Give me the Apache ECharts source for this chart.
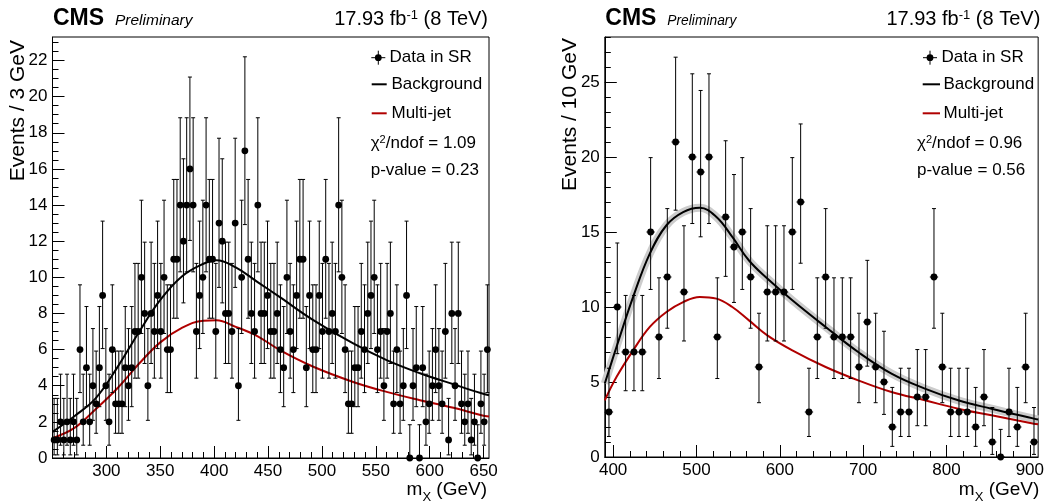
<!DOCTYPE html>
<html>
<head>
<meta charset="utf-8">
<script src="https://cdn.jsdelivr.net/npm/echarts@6/dist/echarts.min.js"></script>
<style>
  html, body { margin: 0; padding: 0; background: #fff; }
  #chart { width: 1047px; height: 503px; }
</style>
</head>
<body>
<div id="chart"></div>
<script>
// left panel: 3 GeV bins from 250 GeV
const leftBinStart = 250;
const leftBinWidth = 3;
const leftCounts = [
  1, 1, 2, 1, 2, 1, 2, 1, 6, 2, 5, 2, 4, 3, 5, 9, 4, 2, 6, 3,
  3, 3, 5, 4, 5, 7, 7, 10, 8, 4, 8, 7, 9, 7, 10, 6, 6, 11, 11, 14,
  12, 14, 16, 14, 7, 9, 10, 14, 11, 11, 7, 13, 12, 8, 8, 7, 13, 4, 10, 17,
  11, 8, 7, 14, 8, 8, 9, 7, 7, 8, 6, 5, 10, 7, 6, 9, 11, 11, 5, 9,
  6, 6, 9, 7, 11, 7, 8, 7, 14, 10, 6, 3, 3, 5, 5, 7, 6, 8, 9, 10,
  6, 7, 4, 7, 8, 3, 6, 3, 4, 9, 0, 4, 5, 0, 5, 2, 3, 4, 6, 4,
  3, 7, 1, 8, 4, 8, 3, 2, 3, 1, 2, 0, 3, 2, 6
];
const leftCurveX = [250, 270, 290, 310, 330, 350, 370, 390, 402, 420, 440, 461, 492, 529, 560, 591, 622, 648, 655];
const leftBackground = [1.45, 2.3, 3.3, 5.0, 6.95, 8.75, 10.05, 10.75, 10.95, 10.55, 9.75, 8.9, 7.63, 6.34, 5.42, 4.69, 4.08, 3.58, 3.47];
const leftMultijet = [1.1, 1.65, 2.7, 3.85, 5.2, 6.4, 7.2, 7.6, 7.62, 7.26, 6.75, 5.97, 5.05, 4.21, 3.66, 3.2, 2.78, 2.37, 2.3];
const leftXTicks = [300, 350, 400, 450, 500, 550, 600, 650];
const leftYTicks = [0, 2, 4, 6, 8, 10, 12, 14, 16, 18, 20, 22];

// right panel: 10 GeV bins from 390 GeV
const rightBinStart = 390;
const rightBinWidth = 10;
const rightCounts = [
  3, 10, 7, 7, 7, 15, 8, 12, 21, 11, 20, 19, 20, 8, 16, 14, 15, 12, 6, 11,
  11, 11, 15, 17, 3, 8, 12, 8, 8, 8, 6, 9, 6, 5, 2, 3, 3, 4, 4, 12,
  6, 3, 3, 3, 2, 4, 1, 0, 3, 2, 6, 1
];
const rightCurveX = [390, 404, 424, 444, 464, 484, 504, 524, 543, 563, 585, 615, 655, 694, 734, 774, 814, 854, 905, 910];
const rightBackground = [4.9, 7.33, 10.67, 13.56, 15.45, 16.33, 16.62, 16.0, 14.67, 13.1, 11.9, 10.45, 8.67, 7.0, 5.56, 4.56, 3.78, 3.22, 2.56, 2.5];
const rightMultijet = [3.78, 5.33, 7.11, 8.67, 9.67, 10.33, 10.67, 10.56, 10.0, 9.11, 8.11, 7.11, 6.0, 5.11, 4.33, 3.78, 3.22, 2.78, 2.22, 2.18];
const rightXTicks = [400, 500, 600, 700, 800, 900];
const rightYTicks = [0, 5, 10, 15, 20, 25];

const FONT = 'Liberation Sans, Arial, Helvetica, sans-serif';
const RED = '#b00000';

// Garwood (68%) Poisson interval, as used for the data error bars
function poisCdf(n, mu) {
  let term = Math.exp(-mu), s = term;
  for (let k = 1; k <= n; k++) { term *= mu / k; s += term; }
  return s;
}
function solveMu(n, target) {
  let lo = 0, hi = 100;
  for (let i = 0; i < 80; i++) {
    const m = (lo + hi) / 2;
    if (poisCdf(n, m) > target) lo = m; else hi = m;
  }
  return (lo + hi) / 2;
}
function garwood(n) {
  const a = 0.158655;
  const up = solveMu(n, a);
  const low = n === 0 ? 0 : solveMu(n - 1, 1 - a);
  return [low, up];
}

function histPoints(counts, start, width) {
  return counts.map((n, i) => {
    const [lo, hi] = garwood(n);
    return [start + width * (i + 0.5), n, lo, hi, width / 2];
  });
}

function range(from, to, step) {
  const out = [];
  for (let v = from; v <= to + 1e-9; v += step) out.push(+v.toFixed(4));
  return out;
}

function errorBarItem(params, api) {
  const x = api.value(0), y = api.value(1);
  const c = api.coord([x, y]);
  const top = api.coord([x, api.value(3)]);
  const bot = api.coord([x, api.value(2)]);
  const l = api.coord([x - api.value(4), y]);
  const r = api.coord([x + api.value(4), y]);
  const cap = 2;
  const st = { stroke: '#000', lineWidth: 1 };
  return {
    type: 'group',
    children: [
      { type: 'line', shape: { x1: c[0], y1: top[1], x2: c[0], y2: bot[1] }, style: st },
      { type: 'line', shape: { x1: c[0] - cap, y1: top[1], x2: c[0] + cap, y2: top[1] }, style: st },
      { type: 'line', shape: { x1: c[0] - cap, y1: bot[1], x2: c[0] + cap, y2: bot[1] }, style: st },
      { type: 'line', shape: { x1: l[0], y1: c[1], x2: r[0], y2: c[1] }, style: st },
      { type: 'circle', shape: { cx: c[0], cy: c[1], r: 3.4 }, style: { fill: '#000' } }
    ]
  };
}

function zip(xs, ys) { return xs.map((x, i) => [x, ys[i]]); }

function mainAxis(grid, min, max, ticks, pos) {
  return {
    type: 'value', gridIndex: grid, min: min, max: max, position: pos,
    axisLine: { show: true, onZero: false, lineStyle: { color: '#000', width: 1 } },
    axisTick: { show: true, inside: true, length: 12, customValues: ticks, lineStyle: { color: '#000' } },
    axisLabel: { show: true, customValues: ticks, color: '#000', fontSize: 17, fontFamily: FONT, margin: 5 },
    splitLine: { show: false }
  };
}
function minorAxis(grid, min, max, ticks, pos) {
  return {
    type: 'value', gridIndex: grid, min: min, max: max, position: pos,
    axisLine: { show: false, onZero: false },
    axisTick: { show: true, inside: true, length: 6, customValues: ticks, lineStyle: { color: '#000' } },
    axisLabel: { show: false },
    splitLine: { show: false }
  };
}

const chart = echarts.init(document.getElementById('chart'));

const txt = (x, y, text, size, extra) => ({
  type: 'text', x: x, y: y,
  style: Object.assign({ text: text, fontSize: size, fontFamily: FONT, fill: '#000', verticalAlign: 'middle' }, extra || {})
});
const seg = (x1, y1, x2, y2, color, w) => ({
  type: 'line', shape: { x1: x1, y1: y1, x2: x2, y2: y2 }, style: { stroke: color, lineWidth: w }
});
const dataIcon = (cx, cy) => ({
  type: 'group', children: [
    seg(cx - 7, cy, cx + 7, cy, '#000', 1),
    seg(cx, cy - 7, cx, cy + 7, '#000', 1),
    { type: 'circle', shape: { cx: cx, cy: cy, r: 3.4 }, style: { fill: '#000' } }
  ]
});
const lumiRich = {
  a: { fontSize: 20, fontFamily: FONT, fill: '#000' },
  s: { fontSize: 13, fontFamily: FONT, fill: '#000', verticalAlign: 'top' }
};
const chiRich = {
  a: { fontSize: 17, fontFamily: FONT, fill: '#000' },
  s: { fontSize: 11, fontFamily: FONT, fill: '#000', verticalAlign: 'top' }
};
const mxRich = {
  a: { fontSize: 19, fontFamily: FONT, fill: '#000' },
  s: { fontSize: 13, fontFamily: FONT, fill: '#000', verticalAlign: 'bottom', padding: [0, 0, -4, 0] }
};

function panelGraphics(dx, prelimSize, chi, pval, icon) {
  return [
    txt(53 + dx, 18.4, 'CMS', 23, { fontWeight: 'bold' }),
    txt(115 + dx, 20.9, 'Preliminary', prelimSize, { fontStyle: 'italic' }),
    txt(488 + dx, 19, '{a|17.93 fb}{s|-1}{a| (8 TeV)}', 20, { align: 'right', rich: lumiRich }),
    dataIcon(icon.dataX, 57.7),
    txt(icon.textX, 57.7, 'Data in SR', 17),
    seg(icon.lineX1, 84.3, icon.lineX2, 84.3, '#000', 2),
    txt(icon.textX + 2, 84.3, 'Background', 17),
    seg(icon.lineX1, 113.3, icon.lineX2, 113.3, RED, 2),
    txt(icon.textX + 2, 113.3, 'Multi-jet', 17),
    txt(icon.statX, 143.3, '{a|\u03c7}{s|2}{a|/ndof = ' + chi + '}', 17, { rich: chiRich }),
    txt(icon.statX, 170, 'p-value = ' + pval, 17),
    txt(487 + dx, 490, '{a|m}{s|X}{a| (GeV)}', 19, { align: 'right', rich: mxRich })
  ];
}

const option = {
  animation: false,
  backgroundColor: '#fff',
  grid: [
    { left: 52.5, top: 37, width: 436.5, height: 421, show: true, borderColor: '#000', borderWidth: 1 },
    { left: 604.8, top: 37, width: 435.2, height: 420, show: true, borderColor: '#000', borderWidth: 1 }
  ],
  xAxis: [
    mainAxis(0, 250, 655, leftXTicks, 'bottom'),
    minorAxis(0, 250, 655, range(250, 650, 10), 'bottom'),
    mainAxis(1, 390, 910, rightXTicks, 'bottom'),
    minorAxis(1, 390, 910, range(400, 900, 20), 'bottom')
  ],
  yAxis: [
    mainAxis(0, 0, 23.3, leftYTicks, 'left'),
    minorAxis(0, 0, 23.3, range(0, 23, 0.5), 'left'),
    mainAxis(1, 0, 28, rightYTicks, 'left'),
    minorAxis(1, 0, 28, range(0, 28, 1), 'left')
  ],
  series: [
    {
      type: 'line', xAxisIndex: 0, yAxisIndex: 0, data: zip(leftCurveX, leftMultijet),
      smooth: 0.4, showSymbol: false, lineStyle: { color: RED, width: 2 }, z: 2
    },
    {
      type: 'line', xAxisIndex: 0, yAxisIndex: 0, data: zip(leftCurveX, leftBackground),
      smooth: 0.4, showSymbol: false, lineStyle: { color: '#000', width: 2 }, z: 2
    },
    {
      type: 'custom', xAxisIndex: 0, yAxisIndex: 0, renderItem: errorBarItem,
      data: histPoints(leftCounts, leftBinStart, leftBinWidth), encode: { x: 0, y: 1 }, z: 3
    },
    {
      type: 'line', xAxisIndex: 2, yAxisIndex: 2, data: zip(rightCurveX, rightBackground),
      smooth: 0.4, showSymbol: false, lineStyle: { color: '#cccccc', width: 8 }, z: 1
    },
    {
      type: 'line', xAxisIndex: 2, yAxisIndex: 2, data: zip(rightCurveX, rightMultijet),
      smooth: 0.4, showSymbol: false, lineStyle: { color: RED, width: 2 }, z: 2
    },
    {
      type: 'line', xAxisIndex: 2, yAxisIndex: 2, data: zip(rightCurveX, rightBackground),
      smooth: 0.4, showSymbol: false, lineStyle: { color: '#000', width: 2 }, z: 2
    },
    {
      type: 'custom', xAxisIndex: 2, yAxisIndex: 2, renderItem: errorBarItem,
      data: histPoints(rightCounts, rightBinStart, rightBinWidth), encode: { x: 0, y: 1 }, z: 3
    }
  ],
  graphic: [].concat(
    panelGraphics(0, 15.5, '1.09', '0.23', { dataX: 378.3, textX: 389.5, lineX1: 371.7, lineX2: 386.7, statX: 370.7 }),
    panelGraphics(552.3, 13.8, '0.96', '0.56', { dataX: 930, textX: 941.5, lineX1: 922.7, lineX2: 940, statX: 917 }),
    [
      txt(18, 40, 'Events / 3 GeV', 21, { align: 'right' }),
      txt(570, 38, 'Events / 10 GeV', 21, { align: 'right' })
    ].map((t) => Object.assign(t, { rotation: Math.PI / 2 }))
  )
};

chart.setOption(option);

window.addEventListener('resize', _ => {
  chart.resize();
});
</script>
</body>
</html>
